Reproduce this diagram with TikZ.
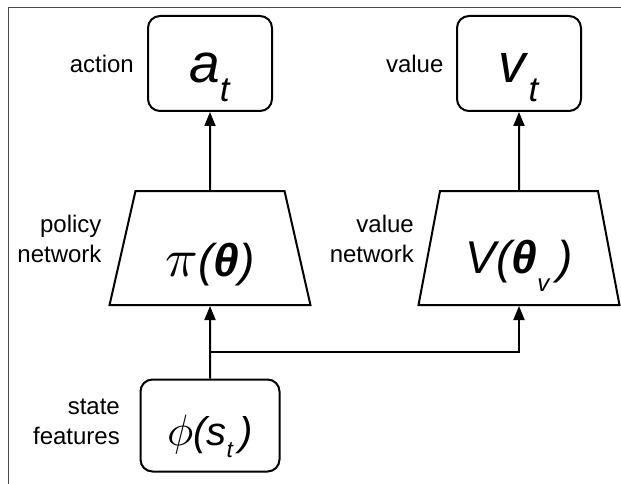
\documentclass[tikz,border=0pt]{standalone}
\usepackage{fontspec}
\setmainfont{Liberation Sans}
\DeclareFontShape{OML}{cmm}{m}{it}{<->cmmi10}{}
\usepackage{xcolor}
\usepackage{tikz}
\usetikzlibrary{arrows.meta,shapes.geometric}
\definecolor{framegray}{HTML}{4A4A4A}
\newcommand{\symsub}[4]{\textit{#1}\raisebox{-#4pt}{\fontsize{#3}{#3}\selectfont\textit{#2}}}
\tikzset{
  box/.style={draw,rounded corners=12pt,line width=2pt,inner sep=0pt,
    minimum width=124pt,minimum height=95pt},
  net/.style={draw,trapezium,trapezium stretches=true,
    trapezium left angle=76.4,trapezium right angle=76.4,
    minimum width=201pt,minimum height=114pt,line width=2pt,inner sep=0pt},
  arrow/.style={-{Triangle[length=14pt,width=11pt]},line width=2pt}
}

\begin{document}
\begin{tikzpicture}[x=1pt,y=-1pt,
  tag/.style={font=\fontsize{24}{30}\selectfont,align=right,inner sep=0pt},
  bigsym/.style={font=\fontsize{55}{55}\selectfont,text height=45pt,text depth=6pt}
]
  \useasboundingbox (0,0) rectangle (621,484);
  \draw[framegray,line width=1.5pt] (621,7.5) -- (8.5,7.5) -- (8.5,484);

  \node[box,bigsym] (action) at (210,63.5) {\symsub{a}{t}{35}{19}};
  \node[box,bigsym] (value) at (519,63.5) {\symsub{v}{t}{35}{19}};
  \node[tag,anchor=base east] (actiontag) at (134,72.7) {action};
  \node[tag,anchor=base east] (valuetag) at (443.6,72.7) {value};

  \node[net,font=\fontsize{46}{46}\selectfont\itshape,text height=60pt,text depth=4pt] (policy) at (210,248)
    {{\fontsize{54}{54}\selectfont$\pi$}(\textbf{θ})};
  \node[net,font=\fontsize{46}{46}\selectfont\itshape,text height=55pt,text depth=5pt] (valuenet) at (519,248)
    {V(\textbf{θ}\raisebox{-18pt}{\fontsize{24}{24}\selectfont v}\,)};
  \node[tag,anchor=east] (policytag) at (101.7,239.4) {policy\\network};
  \node[tag,anchor=east] (valuenettag) at (414,239.4) {value\\network};
  \draw[arrow] (policy.north) -- (action.south);
  \draw[arrow] (valuenet.north) -- (value.south);

  \node[box,minimum width=139pt,minimum height=92pt,
    font=\fontsize{40}{40}\selectfont\itshape,text height=44pt,text depth=4pt] (state) at (210,425.5)
    {{\fontsize{44}{44}\selectfont$\phi$}(s\raisebox{-12pt}{\fontsize{23}{23}\selectfont t}\,)};
  \node[tag,anchor=east] (statetag) at (120,422) {state\\features};
  \coordinate (split) at (210,352);
  \draw[arrow] (state.north) -- (policy.south);
  \draw[arrow] (split) -| (valuenet.south);
\end{tikzpicture}
\end{document}
